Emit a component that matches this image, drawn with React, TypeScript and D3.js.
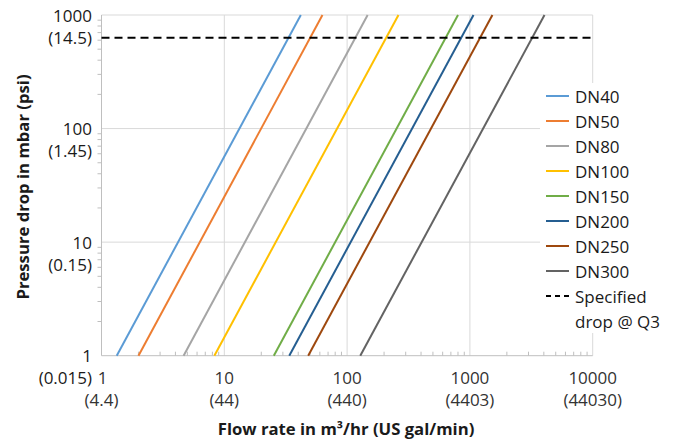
import * as d3 from "d3";

const seriesNames = ["DN40", "DN50", "DN80", "DN100", "DN150", "DN200", "DN250", "DN300"];
// flow (m3/hr) where each curve crosses 1 mbar and 1000 mbar
const flowAt1mbar = [1.33, 2.0, 4.66, 8.3, 25.3, 33.8, 48.2, 128];
const flowAt1000mbar = [42, 63, 147, 262, 800, 1070, 1525, 4050];
const seriesColors = ["#5B9BD5", "#ED7D31", "#A5A5A5", "#FFC000", "#70AD47", "#255E91", "#9E480E", "#636363"];

const specifiedDrop = 630; // mbar

const xTicks = [1, 10, 100, 1000, 10000];
const xTickSub = ["(4.4)", "(44)", "(440)", "(4403)", "(44030)"];
const yTicks = [1, 10, 100, 1000];
const yTickSub = ["(0.015)", "(0.15)", "(1.45)", "(14.5)"];

const W = 675;
const H = 439;
const FONT = "'Open Sans', sans-serif";

export default function App() {
  const x = d3.scaleLog().domain([1, 10000]).range([101.5, 592.7]);
  const y = d3.scaleLog().domain([1, 1000]).range([355.7, 15]);

  const line = d3
    .line<[number, number]>()
    .x((d) => x(d[0]))
    .y((d) => y(d[1]));

  const minorX: number[] = [];
  for (let e = 0; e < 4; e++) {
    for (let k = 2; k <= 9; k++) minorX.push(k * Math.pow(10, e));
  }
  const minorY: number[] = [];
  for (let e = 0; e < 3; e++) {
    for (let k = 2; k <= 9; k++) minorY.push(k * Math.pow(10, e));
  }

  const [x0, x1] = x.range();
  const [y0, y1] = y.range();

  const legendX = 546;
  const legendY = 96;
  const legendStep = 25;

  return (
    <svg
      width={W}
      height={H}
      style={{ position: "absolute", left: 0, top: 0, background: "#fff" }}
      fontFamily={FONT}
    >
      {/* grid */}
      {xTicks.slice(1).map((t) => (
        <line key={"gx" + t} x1={x(t)} x2={x(t)} y1={y0} y2={y1} stroke="#d9d9d9" strokeWidth={1} />
      ))}
      {yTicks.slice(1).map((t) => (
        <line key={"gy" + t} x1={x0} x2={x1} y1={y(t)} y2={y(t)} stroke="#d9d9d9" strokeWidth={1} />
      ))}

      {/* axes */}
      <line x1={x0} x2={x1} y1={y0} y2={y0} stroke="#bfbfbf" strokeWidth={1} />
      <line x1={x0} x2={x0} y1={y0} y2={y1} stroke="#bfbfbf" strokeWidth={1} />
      {minorX.map((t) => (
        <line key={"mx" + t} x1={x(t)} x2={x(t)} y1={y0} y2={y0 - 4} stroke="#bfbfbf" />
      ))}
      {minorY.map((t) => (
        <line key={"my" + t} x1={x0} x2={x0 - 4} y1={y(t)} y2={y(t)} stroke="#bfbfbf" />
      ))}

      {/* series */}
      {seriesNames.map((name, i) => (
        <path
          key={name}
          d={line([
            [flowAt1mbar[i], 1],
            [flowAt1000mbar[i], 1000],
          ]) || ""}
          fill="none"
          stroke={seriesColors[i]}
          strokeWidth={2}
        />
      ))}

      <line
        x1={x0}
        x2={x1}
        y1={y(specifiedDrop)}
        y2={y(specifiedDrop)}
        stroke="#000"
        strokeWidth={2}
        strokeDasharray="8,5"
      />

      {/* tick labels */}
      {yTicks.map((t, i) => (
        <g key={"yl" + t} fontSize={17} fill="#1a1a1a" textAnchor="end">
          <text x={92} y={y(t)} dominantBaseline="central">
            {t}
          </text>
          <text x={92} y={y(t) + 22} dominantBaseline="central">
            {yTickSub[i]}
          </text>
        </g>
      ))}
      {xTicks.map((t, i) => (
        <g key={"xl" + t} fontSize={17} fill="#333" textAnchor="middle">
          <text x={x(t) + (i === 0 ? 1 : 0)} y={377} dominantBaseline="central">
            {t}
          </text>
          <text x={x(t)} y={399} dominantBaseline="central">
            {xTickSub[i]}
          </text>
        </g>
      ))}

      {/* axis titles */}
      <text x={346} y={428} textAnchor="middle" dominantBaseline="central" fontSize={16.7} fontWeight="bold" fill="#1a1a1a">
        Flow rate in m³/hr (US gal/min)
      </text>
      <text
        transform={`translate(22,187) rotate(-90)`}
        textAnchor="middle"
        dominantBaseline="central"
        fontSize={16.7}
        fontWeight="bold"
        fill="#1a1a1a"
      >
        Pressure drop in mbar (psi)
      </text>

      {/* legend */}
      <rect x={540} y={83} width={W - 540} height={250} fill="#fff" />
      {seriesNames.map((name, i) => (
        <g key={"lg" + name}>
          <line
            x1={legendX}
            x2={legendX + 23}
            y1={legendY + i * legendStep}
            y2={legendY + i * legendStep}
            stroke={seriesColors[i]}
            strokeWidth={2}
          />
          <text x={legendX + 29} y={legendY + i * legendStep} dominantBaseline="central" fontSize={17} fill="#1a1a1a">
            {name}
          </text>
        </g>
      ))}
      <line
        x1={legendX}
        x2={legendX + 23}
        y1={legendY + 8 * legendStep}
        y2={legendY + 8 * legendStep}
        stroke="#000"
        strokeWidth={2}
        strokeDasharray="5,4"
      />
      <text x={legendX + 29} y={legendY + 8 * legendStep} dominantBaseline="central" fontSize={17} fill="#1a1a1a">
        Specified
      </text>
      <text x={legendX + 29} y={legendY + 9 * legendStep} dominantBaseline="central" fontSize={17} fill="#1a1a1a">
        drop @ Q3
      </text>
    </svg>
  );
}
